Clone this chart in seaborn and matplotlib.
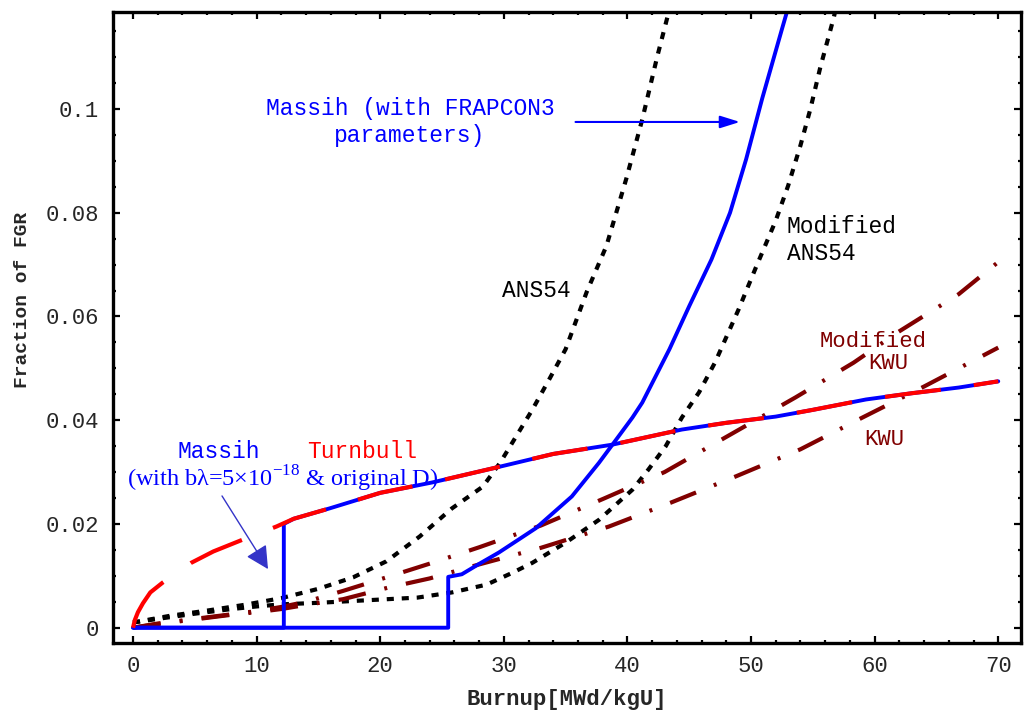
import matplotlib
matplotlib.use("Agg")
import matplotlib.pyplot as plt
import seaborn as sns
from matplotlib.ticker import MultipleLocator

# ---- data (burnup in MWd/kgU, fraction of FGR) ----
ans54_x = [0, 3, 6, 9, 12, 15, 17.8, 20.5, 23.2, 25.8, 28.3, 29.7, 32.3, 33.7,
           35.0, 36.7, 38.3, 39.9, 41.2, 42.4, 43.2, 43.7]
ans54_y = [0.001, 0.0023, 0.0033, 0.0044, 0.0057, 0.0075, 0.0097, 0.0128, 0.0176,
           0.023, 0.0272, 0.0318, 0.042, 0.048, 0.0537, 0.0647, 0.0736, 0.0865,
           0.098, 0.110, 0.1174, 0.122]

mod_ans54_x = [0, 2, 5, 8, 10, 12, 15, 19, 23, 25.8, 28.6, 30.7, 32.3, 35.0, 37.7,
               40.4, 41.7, 43.1, 44.4, 45.8, 47.1, 49.0, 50.4, 52.0, 53.0, 54.0,
               54.8, 55.6, 56.7, 57.1]
mod_ans54_y = [0.001, 0.0017, 0.0027, 0.0036, 0.0041, 0.0045, 0.0048, 0.0053,
               0.0058, 0.0068, 0.0083, 0.0106, 0.0125, 0.0164, 0.0208, 0.0266,
               0.0305, 0.035, 0.0405, 0.0454, 0.0512, 0.0614, 0.0695, 0.0785,
               0.0852, 0.093, 0.100, 0.108, 0.1177, 0.122]

massih3_x = [0, 25.5, 25.5, 26.6, 28.0, 29.6, 31.2, 32.6, 35.5, 37.7, 39.1, 40.4,
             41.2, 43.4, 45.0, 46.8, 48.3, 49.6, 50.9, 52.5, 53.3]
massih3_y = [0, 0, 0.0098, 0.0103, 0.0123, 0.0145, 0.017, 0.0192, 0.0253, 0.0318,
             0.0363, 0.0405, 0.0434, 0.0537, 0.062, 0.071, 0.080, 0.0903, 0.102,
             0.1154, 0.122]

turnbull_x = [0, 0.15, 0.4, 0.8, 1.4, 2.4, 3.5, 4.7, 6.5, 8.9, 11.6, 13.0, 15.9,
              20.0, 24.2, 29.6, 34.0, 38.8, 44.4, 48.0, 52.0, 55.0, 59.3, 63.0,
              66.8, 70.0]
turnbull_y = [0, 0.0015, 0.003, 0.0047, 0.0068, 0.0087, 0.0105, 0.0125, 0.0147,
              0.017, 0.0195, 0.021, 0.023, 0.026, 0.028, 0.031, 0.0335, 0.0353,
              0.0382, 0.0395, 0.0407, 0.042, 0.044, 0.0452, 0.0463, 0.0475]

massih_bl_x = [0, 12.2, 12.2, 13.0, 15.9, 20.0, 24.2, 29.6, 34.0, 38.8, 44.4, 48.0,
               52.0, 55.0, 59.3, 63.0, 66.8, 70.0]
massih_bl_y = [0, 0, 0.0200, 0.021, 0.023, 0.026, 0.028, 0.031, 0.0335, 0.0353,
               0.0382, 0.0395, 0.0407, 0.042, 0.044, 0.0452, 0.0463, 0.0475]

mod_kwu_x = [0, 2, 4, 6, 8, 10, 12, 14, 17, 20.5, 24.2, 28, 33, 38, 43, 48.6, 53.6,
             58.3, 61.9, 66.8, 70]
mod_kwu_y = [0, 0.0008, 0.0014, 0.002, 0.0026, 0.0032, 0.004, 0.005, 0.0071,
             0.0097, 0.0125, 0.0155, 0.0197, 0.0248, 0.030, 0.0376, 0.0444, 0.0511,
             0.057, 0.0643, 0.0705]

kwu_x = [0, 2, 4, 6, 8, 10, 12, 14, 17, 20.6, 24, 28, 33, 38.5, 43.5, 48.8, 54, 59,
         64, 70]
kwu_y = [0, 0.0007, 0.0013, 0.0019, 0.0025, 0.003, 0.0036, 0.0044, 0.0055, 0.0077,
         0.0095, 0.0122, 0.0154, 0.0195, 0.0241, 0.0292, 0.0344, 0.0405, 0.0465,
         0.054]

x_ticks = [0, 10, 20, 30, 40, 50, 60, 70]
y_ticks = [0, 0.02, 0.04, 0.06, 0.08, 0.1]
y_tick_labels = ["0", "0.02", "0.04", "0.06", "0.08", "0.1"]

BLUE = "#0000ff"
RED = "#ff0000"
DARKRED = "#800000"

sns.set_style("ticks")
plt.rcParams["font.family"] = ["Liberation Mono", "DejaVu Sans Mono"]
plt.rcParams["mathtext.fontset"] = "custom"
plt.rcParams["mathtext.rm"] = "Liberation Serif"

fig = plt.figure(figsize=(10.28, 7.13), dpi=100)
ax = fig.add_axes([113 / 1028, 70 / 713, 908 / 1028, 631 / 713])


def draw(x, y, **kw):
    sns.lineplot(x=x, y=y, ax=ax, sort=False, estimator=None, legend=False, **kw)


dotted = (0, (1.7, 1.9))
dashdot = (0, (6.7, 4.6, 0.7, 4.6))

draw(ans54_x, ans54_y, color="black", lw=3, linestyle=dotted)
draw(mod_ans54_x, mod_ans54_y, color="black", lw=3, linestyle=dotted)
draw(mod_kwu_x, mod_kwu_y, color=DARKRED, lw=3, linestyle=dashdot)
draw(kwu_x, kwu_y, color=DARKRED, lw=3, linestyle=dashdot)
draw(massih3_x, massih3_y, color=BLUE, lw=2.8)
draw(massih_bl_x, massih_bl_y, color=BLUE, lw=2.8)
draw(turnbull_x, turnbull_y, color=RED, lw=3, linestyle=(0, (13.5, 8)))

ax.set_xlim(-1.62, 71.84)
ax.set_ylim(-0.00295, 0.1187)

ax.set_xticks(x_ticks)
ax.xaxis.set_minor_locator(MultipleLocator(2))
ax.set_yticks(y_ticks, labels=y_tick_labels)
ax.yaxis.set_minor_locator(MultipleLocator(0.005))
ax.tick_params(which="both", direction="in", top=True, right=True, width=1.6,
               color="black")
ax.tick_params(which="major", length=5, labelsize=16)
ax.tick_params(axis="x", which="major", pad=9)
ax.tick_params(axis="y", which="major", pad=10)
ax.tick_params(which="minor", length=2.5)
for s in ax.spines.values():
    s.set_linewidth(2.4)
    s.set_color("black")

ax.set_xlabel("Burnup[MWd/kgU]", fontsize=16, fontweight="bold")
ax.xaxis.set_label_coords(0.5, -0.073)
ax.set_ylabel("Fraction of FGR", fontsize=14, fontweight="bold")
ax.yaxis.set_label_coords(-0.09, 0.544)

# annotations
ax.text(22.4, 0.0975, "Massih (with FRAPCON3\nparameters)", color=BLUE, fontsize=16.5,
        ha="center", va="center", multialignment="center")
ax.annotate("", xy=(49.1, 0.0975), xytext=(35.8, 0.0975),
            arrowprops=dict(arrowstyle="-|>,head_length=0.8,head_width=0.25",
                            color=BLUE, lw=1.5, mutation_scale=15,
                            shrinkA=0, shrinkB=0))
ax.text(52.9, 0.0747, "Modified\nANS54", color="black", fontsize=16.5,
        ha="left", va="center", multialignment="left")
ax.text(32.6, 0.0651, "ANS54", color="black", fontsize=16.5, ha="center", va="center")
ax.text(59.9, 0.0551, "Modified", color=DARKRED, fontsize=16, ha="center", va="center")
ax.text(61.1, 0.0510, "KWU", color=DARKRED, fontsize=16, ha="center", va="center")
ax.text(60.8, 0.0362, "KWU", color=DARKRED, fontsize=16, ha="center", va="center")
ax.text(18.5, 0.0339, "Turnbull", color=RED, fontsize=16.5, ha="center", va="center")
ax.text(6.9, 0.0339, "Massih", color=BLUE, fontsize=16.5, ha="center", va="center")
ax.text(12.1, 0.0287, "(with b\u03bb=5\u00d710$^{-18}$ & original D)", color=BLUE,
        fontsize=17.5, family=["Liberation Serif", "DejaVu Serif"],
        ha="center", va="center")
ax.annotate("", xy=(10.92, 0.0113), xytext=(7.2, 0.0254),
            arrowprops=dict(arrowstyle="-|>,head_length=0.7,head_width=0.36",
                            color="#3434c8", lw=1, mutation_scale=20,
                            shrinkA=0, shrinkB=0))

fig.savefig("out.png", dpi=100)
